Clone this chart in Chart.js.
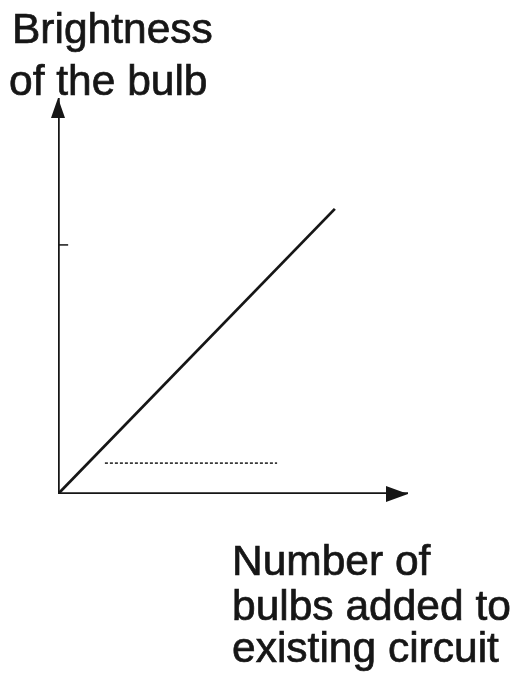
<!DOCTYPE html>
<html>
<head>
<meta charset="utf-8">
<script src="https://cdn.jsdelivr.net/npm/chart.js@4/dist/chart.umd.min.js"></script>
<style>
  html, body { margin: 0; padding: 0; background: #fff; }
  #wrap { width: 520px; height: 693px; position: relative; }
</style>
</head>
<body>
<div id="wrap"><canvas id="graph"></canvas></div>
<script>
// axis extent (arbitrary units, no ticks shown)
const xRange = [0, 10];
const yRange = [0, 10];

// brightness rises with number of bulbs
const lineX = [0, 7.91];
const lineY = [0, 7.2];

// faint dotted reference near the bottom
const dotX = [1.34, 6.26];
const dotY = [0.78, 0.78];

// small mark on the y axis
const tickX = [0, 0.29];
const tickY = [6.29, 6.29];

const yLabel = ['Brightness', 'of the bulb'];
const xLabel = ['Number of', 'bulbs added to', 'existing circuit'];

const ink = '#161616';

function pts(xs, ys) {
  return xs.map((x, i) => ({ x: x, y: ys[i] }));
}

const arrowsAndText = {
  id: 'arrowsAndText',
  afterDatasetsDraw(chart) {
    const ctx = chart.ctx;
    const sx = chart.scales.x, sy = chart.scales.y;
    const ox = sx.getPixelForValue(xRange[0]);
    const oy = sy.getPixelForValue(yRange[0]);
    const topY = sy.getPixelForValue(yRange[1]);
    const rightX = sx.getPixelForValue(xRange[1]);

    ctx.save();
    ctx.fillStyle = ink;
    // y arrow head
    ctx.beginPath();
    ctx.moveTo(ox, topY);
    ctx.lineTo(ox - 7, topY + 20);
    ctx.lineTo(ox + 7, topY + 20);
    ctx.closePath();
    ctx.fill();
    // x arrow head
    ctx.beginPath();
    ctx.moveTo(rightX, oy);
    ctx.lineTo(rightX - 22, oy - 8);
    ctx.lineTo(rightX - 22, oy + 8);
    ctx.closePath();
    ctx.fill();

    ctx.font = '42.5px "Liberation Sans", Arial, sans-serif';
    ctx.textBaseline = 'alphabetic';
    ctx.strokeStyle = ink;
    ctx.lineWidth = 0.7;
    const put = (t, x, y) => { ctx.fillText(t, x, y); ctx.strokeText(t, x, y); };
    put(yLabel[0], 12, 43);
    put(yLabel[1], 9, 95);
    put(xLabel[0], 232, 575);
    put(xLabel[1], 232, 620);
    put(xLabel[2], 232, 662);
    ctx.restore();
  }
};

const ctx = document.getElementById('graph').getContext('2d');
new Chart(ctx, {
  type: 'scatter',
  data: {
    datasets: [
      {
        label: 'y axis',
        data: pts([0, 0], yRange),
        showLine: true,
        borderColor: ink,
        borderWidth: 3.5,
        pointRadius: 0
      },
      {
        label: 'x axis',
        data: pts(xRange, [0, 0]),
        showLine: true,
        borderColor: ink,
        borderWidth: 3.5,
        pointRadius: 0
      },
      {
        label: 'Brightness',
        data: pts(lineX, lineY),
        showLine: true,
        borderColor: ink,
        borderWidth: 2.8,
        pointRadius: 0
      },
      {
        label: 'reference',
        data: pts(dotX, dotY),
        showLine: true,
        borderColor: '#3a3a3a',
        borderWidth: 1.6,
        borderDash: [3, 2],
        pointRadius: 0
      },
      {
        label: 'tick',
        data: pts(tickX, tickY),
        showLine: true,
        borderColor: ink,
        borderWidth: 1.5,
        pointRadius: 0
      }
    ]
  },
  options: {
    responsive: true,
    maintainAspectRatio: false,
    animation: false,
    layout: { padding: { left: 58, right: 112, top: 98, bottom: 199 } },
    plugins: {
      legend: { display: false },
      tooltip: { enabled: false }
    },
    scales: {
      x: { type: 'linear', min: xRange[0], max: xRange[1], display: false },
      y: { type: 'linear', min: yRange[0], max: yRange[1], display: false }
    }
  },
  plugins: [arrowsAndText]
});
</script>
</body>
</html>
